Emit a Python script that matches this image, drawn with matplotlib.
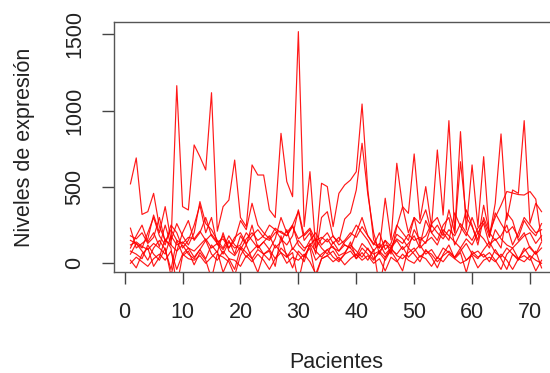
import numpy as np
import matplotlib
matplotlib.use("Agg")
import matplotlib.pyplot as plt

# Patients 1..72
pacientes = np.arange(1, 73)

# Expression levels, one list per gene
gen_a = [520, 690, 320, 338, 458, 240, 150, 120, 1163, 371, 349, 775,
         698, 611, 1117, 210, 371, 414, 676, 300, 240, 644, 578, 578,
         350, 300, 851, 535, 436, 1517, 240, 600, 100, 524, 502, 240,
         458, 513, 545, 600, 1043, 480, 153, 100, 426, 153, 655, 371,
         327, 716, 283, 502, 240, 742, 316, 934, 198, 862, 218, 644,
         240, 698, 174, 393, 847, 283, 480, 458, 934, 262, 393, 338]
gen_b = [150, 130, 100, 200, 300, 180, 120, 250, 200, 100, 150, 250,
         382, 200, 300, 120, 180, 100, 150, 280, 220, 393, 250, 200,
         160, 230, 200, 180, 250, 340, 150, 200, 60, 300, 338, 174,
         140, 290, 330, 480, 786, 450, 200, 60, 150, 60, 240, 370,
         200, 300, 120, 280, 200, 250, 180, 350, 200, 665, 300, 240,
         150, 380, 200, 300, 380, 470, 460, 450, 447, 470, 420, 150]
gen_c = [230, 100, 130, 160, 316, 200, 371, 150, 260, 180, 120, 200,
         404, 260, 220, 150, 100, 180, 120, 90, 160, 200, 150, 180,
         250, 220, 160, 120, 180, 350, 180, 220, 100, 160, 200, 130,
         170, 120, 100, 200, 300, 180, 120, 200, 90, 130, 250, 200,
         150, 300, 260, 350, 200, 150, 250, 300, 120, 200, 350, 250,
         120, 300, 200, 150, 180, 250, 120, 200, 300, 250, 200, 220]
gen_d = [120, 140, 110, 90, 130, 100, 60, 180, 120, 140, 100, 80,
         120, 160, 100, 130, 60, 140, 100, 120, 200, 150, 100, 140,
         180, 100, 140, 220, 90, 150, 100, 120, 160, 100, 60, 140,
         80, 120, 100, 50, 130, 90, 60, 80, 120, 100, 150, 90,
         130, 180, 100, 140, 170, 120, 220, 180, 140, 100, 160, 120,
         200, 160, 100, 220, 160, 120, 100, 140, 180, 200, 130, 180]
gen_e = [60, 130, 80, 20, 100, 150, 90, -40, 150, 60, 100, 40,
         90, 30, 120, 70, 200, 80, 50, 110, 70, 30, 90, 60,
         20, 120, 70, 40, 100, 60, 10, 130, 80, 40, 90, 110,
         50, 70, 120, 80, 40, 100, 30, 70, 20, 90, 60, 110,
         40, 80, 120, 60, 90, 30, 100, 70, 40, 80, 130, 60,
         30, 90, 140, 70, 40, 100, 60, 30, 80, 110, 60, 100]
gen_f = [20, -30, 60, 100, -20, 40, 160, 100, -150, 50, 80, -10,
         70, 20, -100, 60, 40, 10, -80, 50, 120, 30, -60, 60,
         80, -20, 180, 40, 70, -120, 50, 100, -90, 30, 50, 80,
         20, 60, 140, 30, 70, 20, 90, -150, 40, 80, 20, -50,
         100, 60, 10, 90, 40, -30, 60, 120, 30, 70, -60, 80,
         40, 60, 10, 90, 30, -40, 60, 20, 100, 40, -50, 20]
gen_g = [180, 160, 200, 130, 170, 300, 140, 220, 150, 130, 170, 160,
         210, 150, 190, 140, 160, 100, 170, 200, 130, 180, 220, 170,
         150, 200, 210, 180, 240, 160, 190, 230, 150, 170, 140, 180,
         120, 150, 200, 170, 240, 180, 130, 100, 150, 110, 160, 130,
         190, 150, 170, 130, 250, 200, 160, 220, 180, 260, 200, 150,
         230, 280, 170, 330, 260, 200, 240, 170, 280, 220, 180, 260]
gen_h = [0, 40, 10, -20, 30, 60, 20, 80, -40, 60, 30, 20,
         50, 0, 40, 80, -60, 30, 20, -20, 50, 10, 60, 20,
         -40, 30, 70, 0, 40, 20, 60, 10, -70, 30, 50, 10,
         40, -10, 30, 60, 20, 50, 0, 30, -50, 40, 10, 60,
         20, 0, 50, 30, -20, 40, 10, 60, 30, 0, 20, 50,
         -30, 20, 40, 10, 60, 20, -40, 30, 10, 50, 20, 0]
gen_i = [100, 180, 250, 140, 200, 110, 250, 120, 80, 200, 280, 150,
         200, 300, 180, 130, 90, 150, 60, 180, 120, 250, 100, 140,
         90, 160, 300, 200, 250, 120, 80, 150, 200, 120, 160, 100,
         80, 140, 180, 250, 200, 150, 80, 130, 60, 100, 190, 160,
         100, 220, 150, 180, 260, 300, 200, 150, 330, 240, 180, 300,
         200, 260, 120, 160, 100, 330, 280, 150, 200, 100, 60, 140]
gen_j = [80, 60, 30, 120, 60, 20, 100, -80, 80, 120, 60, 30,
         90, 150, 60, 20, 80, 30, -40, 100, 40, 80, 120, 60,
         90, 30, 100, 60, -30, 80, 40, 120, 20, 60, 90, 40,
         10, 60, 80, 30, 100, 60, 20, 80, 40, 100, 50, 30,
         70, 100, 40, 80, 60, 10, 50, 80, 40, 100, 20, 60,
         80, 40, 70, 20, -40, 60, 100, 30, 50, 20, 80, -30]

genes = [gen_a, gen_b, gen_c, gen_d, gen_e, gen_f, gen_g, gen_h, gen_i, gen_j]

x_ticks = [0, 10, 20, 30, 40, 50, 60, 70]
y_ticks = [0, 500, 1000, 1500]

plt.rcParams['font.family'] = ['Liberation Sans', 'DejaVu Sans']

fig = plt.figure(figsize=(5.5, 3.73), dpi=100)
# axes box runs past the right edge of the picture, like the reference crop
ax = fig.add_axes([114 / 550, 1 - 272.3 / 373, (558 - 114) / 550, 250 / 373])

for vals in genes:
    ax.plot(pacientes, vals, color='#ff0000', linewidth=0.85, alpha=0.9)

ax.set_xlim(-1.84, 74.84)
ax.set_ylim(-59, 1578)

ax.set_xticks(x_ticks)
ax.set_yticks(y_ticks)
ax.set_yticklabels([str(v) for v in y_ticks], rotation=90, va='center')
ax.tick_params(axis='both', length=8.5, width=1, color='#444444',
               labelsize=15.5, labelcolor='#222222')
ax.tick_params(axis='x', pad=13)
ax.tick_params(axis='y', pad=12)

for sp in ax.spines.values():
    sp.set_color('#555555')
    sp.set_linewidth(1)

fig.text(336 / 550, 1 - 362 / 373, "Pacientes", ha='center', va='center',
         fontsize=15.5, color='#222222')
fig.text(25 / 550, 1 - 147 / 373, "Niveles de expresión", ha='center',
         va='center', rotation=90, fontsize=15.5, color='#222222')

fig.savefig("out.png", dpi=100)
